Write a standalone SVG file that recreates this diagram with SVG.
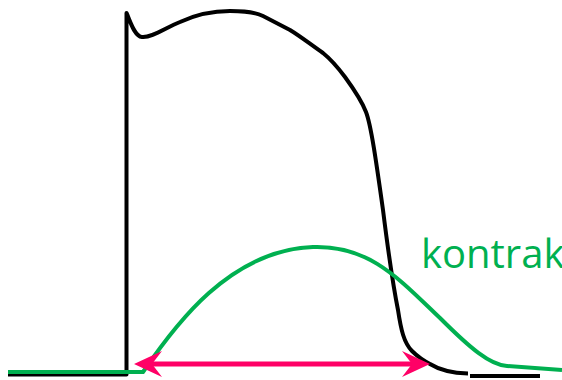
<svg xmlns="http://www.w3.org/2000/svg" width="562" height="380" viewBox="0 0 562 380">
<style>
.ap{fill:none;stroke:#000;stroke-width:4;stroke-linejoin:round;stroke-linecap:butt}
.ct{fill:none;stroke:#00B050;stroke-width:4;stroke-linejoin:round}
.arr{stroke:#FF0066;stroke-width:5}
.head{fill:#FF0066}
.lbl{font-family:"Open Sans","Liberation Sans",sans-serif;font-size:40px;fill:#00B050}
</style>
<rect width="562" height="380" fill="#fff"/>
<g id="action-potential">
<path class="ap" d="M8,374.5 H126.5 V13 C130,20 134,36 142,37 C152,38 165,28 180,22 C195,15 210,11 230,11 C245,11 255,12 263,16 L290,30 C300,36 310,44 323,53 C333,61 339,69 345,77 C353,88 361,99 366,112 C371,125 376,160 383,210 C388,250 394,290 398,310 C401,330 404,343 412,351 C418,357 424,361 430,364 C438,369 450,373 468,373.5"/>
<path class="ap" d="M470,376 H540"/>
</g>
<g id="contraction">
<path class="ct" d="M8,372 H143 C175,325 230,250 313,247 C370,245 400,280 440,318 C470,348 490,365 507,366 L562,370"/>
</g>
<g id="connectors">
<line class="arr" x1="150" y1="364" x2="414" y2="364"/>
<polygon class="head" points="134,364 162,351 152,364 162,377"/>
<polygon class="head" points="430,364 402,351 412,364 402,377"/>
</g>
<g id="label">
<text class="lbl" x="421" y="268">kontrak</text>
</g>
</svg>
